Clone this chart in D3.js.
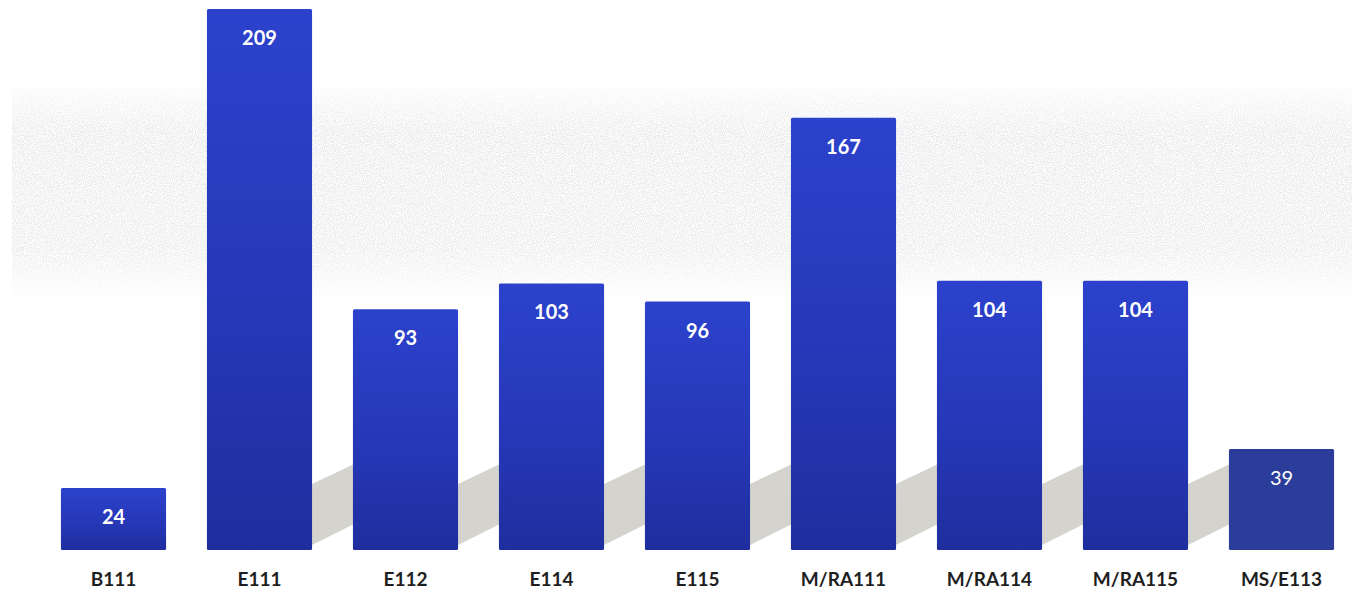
<!DOCTYPE html>
<html>
<head>
<meta charset="utf-8">
<script src="https://cdn.jsdelivr.net/npm/d3@7"></script>
<style>
  html, body { margin: 0; padding: 0; background: #ffffff; }
  svg { display: block; }
</style>
</head>
<body>
<svg id="chart" width="1366" height="609"></svg>
<script>
const categories = ["B111", "E111", "E112", "E114", "E115", "M/RA111", "M/RA114", "M/RA115", "MS/E113"];
const values = [24, 209, 93, 103, 96, 167, 104, 104, 39];

const W = 1366, H = 609;
const baseline = 550;
const svg = d3.select("#chart");

const x = d3.scaleBand()
  .domain(categories)
  .range([40.5, 1354.5])
  .paddingInner(0.28)
  .paddingOuter(0.14);

const y = d3.scaleLinear()
  .domain([0, 209])
  .range([baseline, 9]);

const defs = svg.append("defs");

// bar gradient
const g1 = defs.append("linearGradient").attr("id", "barGrad")
  .attr("x1", 0).attr("y1", 0).attr("x2", 0).attr("y2", 1);
g1.append("stop").attr("offset", "0%").attr("stop-color", "#2c42cc");
g1.append("stop").attr("offset", "55%").attr("stop-color", "#2638b8");
g1.append("stop").attr("offset", "100%").attr("stop-color", "#1f2e9e");

// speckle noise for the background band
const f = defs.append("filter").attr("id", "speckle")
  .attr("x", 0).attr("y", 0).attr("width", "100%").attr("height", "100%");
f.append("feTurbulence").attr("type", "fractalNoise").attr("baseFrequency", 0.9)
  .attr("numOctaves", 2).attr("seed", 3).attr("result", "noise");
f.append("feColorMatrix").attr("in", "noise").attr("type", "matrix")
  .attr("values", "0 0 0 0 0.80  0 0 0 0 0.80  0 0 0 0 0.82  0 0 0 -2.6 1.75")
  .attr("result", "spk");
f.append("feComposite").attr("in", "spk").attr("in2", "SourceGraphic").attr("operator", "in");

const bandMask = defs.append("linearGradient").attr("id", "bandFade")
  .attr("x1", 0).attr("y1", 0).attr("x2", 0).attr("y2", 1);
bandMask.append("stop").attr("offset", "0%").attr("stop-color", "#fff").attr("stop-opacity", 0.2);
bandMask.append("stop").attr("offset", "20%").attr("stop-color", "#fff").attr("stop-opacity", 1);
bandMask.append("stop").attr("offset", "75%").attr("stop-color", "#fff").attr("stop-opacity", 0.9);
bandMask.append("stop").attr("offset", "100%").attr("stop-color", "#fff").attr("stop-opacity", 0);

// background speckled band
svg.append("rect")
  .attr("x", 12).attr("y", 88).attr("width", 1340).attr("height", 215)
  .attr("fill", "url(#bandFade)")
  .attr("filter", "url(#speckle)")
  .attr("opacity", 1);

// shadows behind bars (the short first bar casts none visible)
svg.append("g").selectAll("polygon")
  .data(categories.slice(1, -1))
  .join("polygon")
  .attr("points", d => {
    const r = x(d) + x.bandwidth();
    return [[r, 545], [r, 484], [r + 42, 464], [r + 42, 524]].map(p => p.join(",")).join(" ");
  })
  .attr("fill", "#cbc8c0")
  .attr("opacity", 0.8);

// bars
svg.append("g").selectAll("rect")
  .data(categories)
  .join("rect")
  .attr("x", d => x(d))
  .attr("y", (d, i) => y(values[i]))
  .attr("width", x.bandwidth())
  .attr("height", (d, i) => baseline - y(values[i]))
  .attr("rx", 1.5)
  .attr("fill", (d, i) => i === categories.length - 1 ? "#2b3c9b" : "url(#barGrad)");

// value labels
svg.append("g").selectAll("text")
  .data(categories)
  .join("text")
  .attr("x", d => x(d) + x.bandwidth() / 2)
  .attr("y", (d, i) => y(values[i]) + 36)
  .attr("text-anchor", "middle")
  .attr("font-family", "Lato, 'Open Sans', sans-serif")
  .attr("font-weight", (d, i) => i === categories.length - 1 ? 400 : 700)
  .attr("font-size", 20)
  .attr("fill", "#ffffff")
  .text((d, i) => values[i]);

// category axis
const axis = svg.append("g")
  .attr("transform", `translate(0,${baseline})`)
  .call(d3.axisBottom(x).tickSize(0).tickPadding(23));
axis.select(".domain").remove();
axis.selectAll("text")
  .attr("font-family", "Lato, 'Open Sans', sans-serif")
  .attr("font-weight", 700)
  .attr("font-size", 19)
  .attr("fill", "#1e1e1e");
</script>
</body>
</html>
